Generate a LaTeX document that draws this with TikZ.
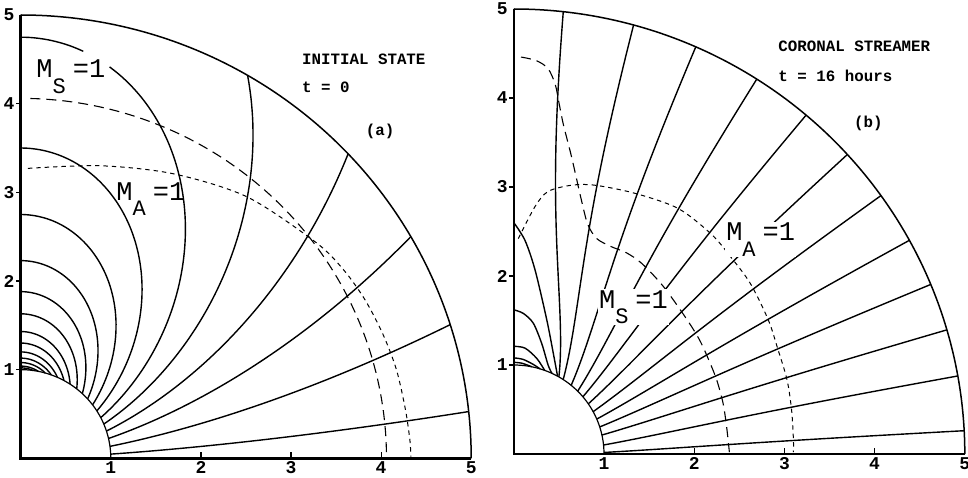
\documentclass[tikz,border=0pt]{standalone}
\usepackage{fontspec}
\setmonofont{Liberation Mono}
\usepackage{tikz}
\newcommand{\machno}[1]{M\raisebox{-1.1ex}{\fontsize{11}{11}\selectfont #1}\hspace{3.5pt}=1}
\newcommand{\quadframe}[1]{%
  \draw[axisline] (0,5) -- (0,0) -- (5,0);
  \draw[rimline] plot[domain=0:90,samples=91,smooth] ({5*cos(\x)},{5*sin(\x)});
  \draw[sunline] plot[domain=0:90,samples=46,smooth] ({cos(\x)},{sin(\x)});
  \foreach \k in {2,3,4} \draw[tickline] (\k,0) -- ++(0,3pt);
  \foreach \k in {1,2,3,4} \draw[tickline] (0,\k) -- ++(-2.6pt,0);
  \foreach \k in {1,...,5} {
    \node[ticklabel,below=1.3pt] (#1x\k) at (\k,0) {\k};
    \node[ticklabel,left=2.6pt] (#1y\k) at (0,\k) {\k};
  }
}
\tikzset{
  fieldline/.style={line width=.7pt},
  axisline/.style={line width=1.3pt},
  rimline/.style={line width=.75pt},
  sunline/.style={line width=.6pt},
  tickline/.style={line width=.6pt},
  msline/.style={line width=.55pt,dash pattern=on 5pt off 3pt},
  maline/.style={line width=.5pt,dash pattern=on 2.2pt off 2pt},
  ticklabel/.style={font=\fontsize{9}{9}\selectfont\ttfamily\bfseries,inner sep=.3pt},
  titletext/.style={font=\fontsize{7.9}{9}\selectfont\ttfamily\bfseries,anchor=west,inner sep=0pt},
  machlabel/.style={font=\fontsize{13.5}{14}\selectfont\ttfamily,anchor=base west,inner sep=.5pt}
}
\begin{document}
\begin{tikzpicture}
\path[use as bounding box] (0,0) rectangle (484pt,238.5pt);
\fill[white] (0,0) rectangle (484pt,238.5pt);

% (a) initial state
\begin{scope}[shift={(10.35pt,9.35pt)},x=45.05pt,y=44.33pt]
\quadframe{a}
\foreach \L in {1.02,1.04,1.08,1.13,1.2,1.3,1.43,1.63,1.88,2.23,2.75,3.5,6.7,10.6,20,55,450} {
  \pgfmathsetmacro\ta{asin(1/sqrt(\L))}
  \pgfmathsetmacro\tb{asin(sqrt(min(5/\L,1)))}
  \draw[fieldline] plot[domain=\ta:\tb,samples=60,smooth] ({\L*sin(\x)*sin(\x)*cos(\x)},{\L*sin(\x)*sin(\x)*sin(\x)});
}
\draw[fieldline] plot[domain=27.31:77.4,samples=50,smooth] ({4.75*sin(\x)*sin(\x)*cos(\x)},{4.75*sin(\x)*sin(\x)*sin(\x)});
\draw[fieldline] plot[domain=81.4:90,samples=10,smooth] ({4.75*sin(\x)*sin(\x)*cos(\x)},{4.75*sin(\x)*sin(\x)*sin(\x)});
\draw[msline] plot[domain=1:89,samples=60,smooth] ({4.06*cos(\x)},{4.06*sin(\x)});
\draw[maline] plot[smooth] coordinates {(0.08,3.27) (0.88,3.30) (1.69,3.21) (2.51,2.95) (3.27,2.44) (3.58,2.13) (3.82,1.79) (4.02,1.40) (4.17,1.00) (4.27,0.55) (4.32,0.2) (4.33,0.02)};
\node[titletext] (atitle) at (3.12,4.50) {INITIAL STATE};
\node[titletext] (atime) at (3.12,4.18) {t = 0};
\node[titletext,anchor=center] (atag) at (3.99,3.69) {(a)};
\node[machlabel] (ams) at (0.159,4.29) {\machno{S}};
\node[machlabel] (ama) at (1.047,2.91) {\machno{A}};
\end{scope}

% (b) coronal streamer
\begin{scope}[shift={(256.9pt,11.5pt)},x=45.1pt,y=44.5pt]
\quadframe{b}
\foreach \af/\ab in {60/83.7,56.8/74.6,50.5/66.2,44.9/57.4,40/49.6,34.3/42.3,28.4/35.5,23.1/28.7,17.7/22.4,12.3/16.2,5.8/10.1,1.0/3.0}
  \draw[fieldline] plot[domain=1:5,samples=40,smooth] ({\x*cos(\ab+(\af-\ab)*(exp((1-\x)/0.95)-0.0149)/0.9851)},{\x*sin(\ab+(\af-\ab)*(exp((1-\x)/0.95)-0.0149)/0.9851)});
\draw[fieldline] plot[smooth] coordinates {(0,2.6) (0.124,2.40) (0.235,2.07) (0.365,1.51) (0.44,1.12) (0.485,0.875)};
\draw[fieldline] plot[smooth] coordinates {(0,1.62) (0.105,1.58) (0.216,1.47) (0.31,1.24) (0.38,1.0) (0.423,0.906)};
\draw[fieldline] plot[smooth] coordinates {(0,1.21) (0.124,1.19) (0.254,1.075) (0.342,0.94)};
\draw[fieldline] plot[smooth] coordinates {(0,1.08) (0.1,1.064) (0.21,1.01) (0.29,0.957)};
\draw[fieldline] plot[smooth] coordinates {(0,1.03) (0.09,1.02) (0.2,0.98)};
\draw[msline] plot[smooth] coordinates {(0.08,4.46) (0.25,4.42) (0.38,4.33) (0.46,4.15) (0.50,3.95) (0.55,3.70) (0.64,3.34) (0.75,2.85) (0.82,2.58) (0.92,2.42) (1.08,2.33) (1.25,2.26) (1.42,2.14) (1.66,1.88) (1.92,1.51) (2.06,1.28) (2.16,1.06) (2.25,0.83) (2.32,0.57) (2.36,0.30) (2.39,0.02)};
\draw[maline] plot[smooth] coordinates {(0.05,2.42) (0.235,2.78) (0.38,2.95) (0.64,3.02) (0.9,3.02) (1.34,2.93) (1.82,2.76) (2.19,2.47) (2.40,2.22) (2.62,1.92) (2.82,1.51) (2.93,1.17) (3.03,0.83) (3.08,0.49) (3.10,0.16) (3.10,0.02)};
\node[titletext] (btitle) at (2.93,4.58) {CORONAL STREAMER};
\node[titletext] (btime) at (2.93,4.25) {t = 16 hours};
\node[titletext,anchor=center] (btag) at (3.93,3.71) {(b)};
\node[machlabel,fill=white] (bms) at (0.93,1.64) {\machno{S}};
\node[machlabel,fill=white] (bma) at (2.34,2.40) {\machno{A}};
\end{scope}
\end{tikzpicture}
\end{document}
